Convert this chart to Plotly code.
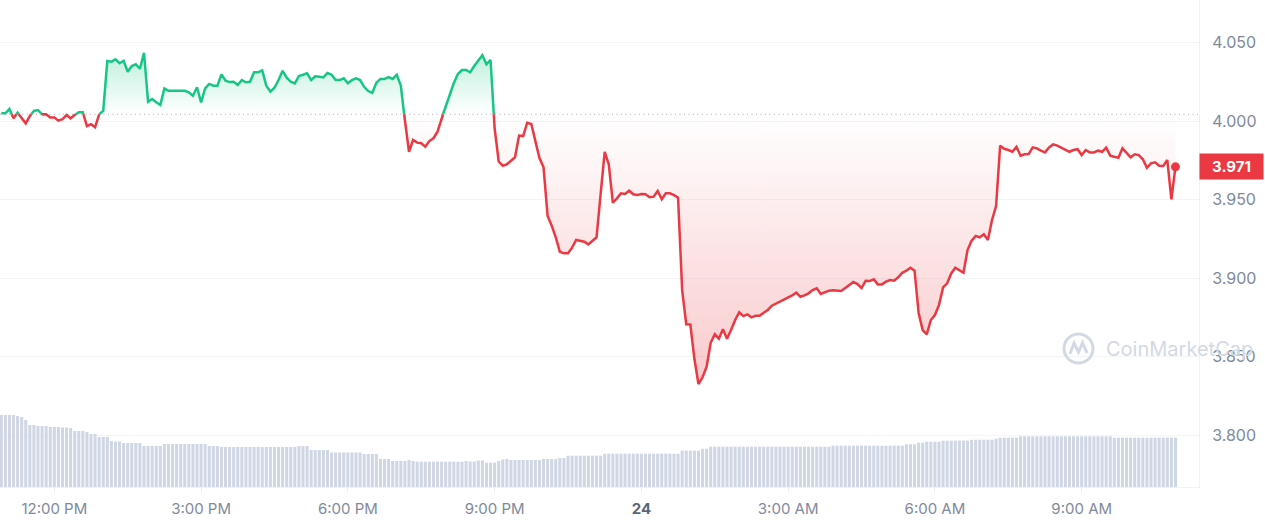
import plotly.graph_objects as go
import pandas as pd

# ---------------- data ----------------
START = "2024-06-23 10:55"          # first 5-minute sample
price = [
    4.0051, 4.0051, 4.0078, 4.0019, 4.0055, 4.0019, 3.9987, 4.0034, 4.0066, 4.0072,
    4.0045, 4.0045, 4.0025, 4.0025, 4.0004, 4.0013, 4.0040, 4.0019, 4.0040, 4.0057,
    4.0057, 3.9970, 3.9981, 3.9962, 4.0045, 4.0066, 4.0384, 4.0380, 4.0395, 4.0370,
    4.0386, 4.0316, 4.0352, 4.0363, 4.0335, 4.0437, 4.0125, 4.0142, 4.0121, 4.0104,
    4.0210, 4.0194, 4.0194, 4.0195, 4.0195, 4.0195, 4.0185, 4.0163, 4.0217, 4.0121,
    4.0210, 4.0238, 4.0227, 4.0227, 4.0299, 4.0259, 4.0250, 4.0252, 4.0231, 4.0263,
    4.0249, 4.0252, 4.0312, 4.0312, 4.0325, 4.0227, 4.0189, 4.0214, 4.0263, 4.0322,
    4.0278, 4.0252, 4.0242, 4.0289, 4.0297, 4.0306, 4.0263, 4.0287, 4.0284, 4.0280,
    4.0308, 4.0297, 4.0263, 4.0263, 4.0274, 4.0242, 4.0263, 4.0274, 4.0263, 4.0220,
    4.0193, 4.0182, 4.0246, 4.0270, 4.0270, 4.0282, 4.0270, 4.0297, 4.0227, 4.0002,
    3.9806, 3.9881, 3.9864, 3.9860, 3.9838, 3.9874, 3.9892, 3.9934, 4.0019, 4.0094,
    4.0168, 4.0244, 4.0301, 4.0327, 4.0327, 4.0312, 4.0352, 4.0384, 4.0421, 4.0363,
    4.0391, 3.9957, 3.9744, 3.9717, 3.9726, 3.9747, 3.9771, 3.9909, 3.9906, 3.9991,
    3.9983, 3.9874, 3.9766, 3.9707, 3.9397, 3.9335, 3.9260, 3.9169, 3.9159, 3.9159,
    3.9195, 3.9244, 3.9239, 3.9233, 3.9216, 3.9239, 3.9261, 3.9535, 3.9806, 3.9726,
    3.9481, 3.9509, 3.9541, 3.9537, 3.9558, 3.9535, 3.9530, 3.9537, 3.9535, 3.9516,
    3.9520, 3.9556, 3.9503, 3.9541, 3.9541, 3.9530, 3.9513, 3.8925, 3.8707, 3.8706,
    3.8487, 3.8326, 3.8369, 3.8436, 3.8589, 3.8643, 3.8615, 3.8675, 3.8615, 3.8670,
    3.8734, 3.8783, 3.8759, 3.8770, 3.8751, 3.8761, 3.8761, 3.8780, 3.8798, 3.8825,
    3.8838, 3.8851, 3.8861, 3.8879, 3.8891, 3.8908, 3.8882, 3.8891, 3.8904, 3.8925,
    3.8936, 3.8900, 3.8910, 3.8921, 3.8923, 3.8919, 3.8919, 3.8938, 3.8957, 3.8976,
    3.8963, 3.8938, 3.8984, 3.8982, 3.8993, 3.8961, 3.8961, 3.8978, 3.8989, 3.8984,
    3.9006, 3.9035, 3.9048, 3.9067, 3.9048, 3.8779, 3.8670, 3.8643, 3.8734, 3.8766,
    3.8829, 3.8942, 3.8968, 3.9031, 3.9067, 3.9052, 3.9035, 3.9180, 3.9239, 3.9269,
    3.9261, 3.9280, 3.9244, 3.9371, 3.9460, 3.9845, 3.9825, 3.9817, 3.9806, 3.9838,
    3.9781, 3.9790, 3.9792, 3.9834, 3.9828, 3.9813, 3.9802, 3.9834, 3.9853, 3.9845,
    3.9832, 3.9823, 3.9806, 3.9817, 3.9822, 3.9785, 3.9817, 3.9802, 3.9802, 3.9813,
    3.9806, 3.9832, 3.9781, 3.9774, 3.9768, 3.9828, 3.9800, 3.9771, 3.9790, 3.9785,
    3.9758, 3.9704, 3.9732, 3.9739, 3.9717, 3.9715, 3.9753, 3.9503, 3.9710,
]

volume = [
    7.2, 7.2, 7.2, 7.2, 7.1, 7.0, 6.7, 6.2, 6.2, 6.1,
    6.1, 6.1, 6.0, 6.0, 6.0, 5.95, 5.95, 5.9, 5.6, 5.6,
    5.6, 5.5, 5.3, 5.3, 5.0, 5.0, 5.0, 4.6, 4.55, 4.55,
    4.4, 4.4, 4.4, 4.4, 4.4, 4.1, 4.1, 4.1, 4.1, 4.1,
    4.3, 4.3, 4.3, 4.3, 4.3, 4.3, 4.3, 4.3, 4.3, 4.3,
    4.3, 4.1, 4.1, 4.1, 4.0, 4.0, 4.0, 4.0, 4.0, 4.0,
    4.0, 4.0, 4.0, 4.0, 4.0, 4.0, 4.0, 4.0, 4.0, 4.0,
    4.0, 4.0, 4.0, 4.1, 4.1, 4.1, 3.7, 3.7, 3.7, 3.7,
    3.7, 3.45, 3.45, 3.45, 3.45, 3.45, 3.45, 3.45, 3.45, 3.3,
    3.3, 3.3, 3.3, 2.8, 2.8, 2.8, 2.6, 2.6, 2.6, 2.6,
    2.7, 2.6, 2.53, 2.53, 2.53, 2.53, 2.53, 2.53, 2.53, 2.53,
    2.53, 2.53, 2.53, 2.53, 2.6, 2.55, 2.55, 2.65, 2.65, 2.43,
    2.43, 2.43, 2.6, 2.75, 2.8, 2.7, 2.7, 2.7, 2.7, 2.7,
    2.7, 2.7, 2.7, 2.8, 2.8, 2.8, 2.8, 2.9, 2.9, 3.13,
    3.13, 3.13, 3.13, 3.13, 3.13, 3.13, 3.13, 3.13, 3.33, 3.33,
    3.33, 3.33, 3.33, 3.33, 3.33, 3.33, 3.33, 3.33, 3.33, 3.33,
    3.33, 3.33, 3.33, 3.33, 3.33, 3.33, 3.33, 3.63, 3.63, 3.63,
    3.63, 3.63, 3.83, 3.83, 4.03, 4.03, 4.03, 4.03, 4.03, 4.03,
    4.03, 4.03, 4.03, 4.03, 4.03, 4.03, 4.03, 4.03, 4.03, 4.03,
    4.03, 4.03, 4.03, 4.03, 4.03, 4.03, 4.03, 4.03, 4.03, 4.03,
    4.03, 4.03, 4.03, 4.03, 4.13, 4.13, 4.13, 4.13, 4.13, 4.13,
    4.13, 4.13, 4.13, 4.13, 4.13, 4.13, 4.13, 4.13, 4.13, 4.13,
    4.13, 4.13, 4.27, 4.27, 4.27, 4.43, 4.43, 4.53, 4.53, 4.53,
    4.53, 4.63, 4.63, 4.63, 4.63, 4.63, 4.63, 4.63, 4.73, 4.73,
    4.73, 4.73, 4.73, 4.73, 4.83, 4.93, 4.93, 4.93, 4.93, 4.93,
    5.07, 5.07, 5.07, 5.07, 5.07, 5.07, 5.07, 5.07, 5.07, 5.07,
    5.07, 5.07, 5.07, 5.07, 5.07, 5.07, 5.07, 5.07, 5.07, 5.07,
    5.07, 5.07, 5.07, 4.93, 4.93, 4.93, 4.93, 4.93, 4.93, 4.93,
    4.93, 4.93, 4.93, 4.93, 4.93, 4.93, 4.93, 4.93, 4.93,
]

baseline = 4.0045                    # opening-price reference (dotted line)
tick_times = ["2024-06-23 12:00", "2024-06-23 15:00", "2024-06-23 18:00",
              "2024-06-23 21:00", "2024-06-24 00:00", "2024-06-24 03:00",
              "2024-06-24 06:00", "2024-06-24 09:00"]
tick_labels = ["12:00 PM", "3:00 PM", "6:00 PM", "9:00 PM",
               "<span style='color:#58667e'><b>24</b></span>",
               "3:00 AM", "6:00 AM", "9:00 AM"]
price_ticks = [3.80, 3.85, 3.90, 3.95, 4.00, 4.05]

# ---------------- layout constants ----------------
W, H = 1265, 522
ML, MR, MT, MB = 0, 66, 0, 35
PW, PH = W - ML - MR, H - MT - MB
x_range = ["2024-06-23 10:53:24", "2024-06-24 11:23:52"]
y_range = [3.7670, 4.0773]
vol_range = [0, 48.7]

GREEN = "#16c784"
RED = "#ea3943"
GREY = "#808a9d"
FONT = "Inter"

times = pd.date_range(START, periods=len(price), freq="5min")

# insert baseline crossings so colours switch exactly on the dotted line
ax, ay = [], []
for i in range(len(price)):
    ax.append(times[i])
    ay.append(price[i])
    if i + 1 < len(price):
        p0, p1 = price[i], price[i + 1]
        if (p0 - baseline) * (p1 - baseline) < 0:
            f = (baseline - p0) / (p1 - p0)
            ax.append(times[i] + (times[i + 1] - times[i]) * f)
            ay.append(baseline)

upper = [max(v, baseline) for v in ay]
lower = [min(v, baseline) for v in ay]
green_y = [v if v >= baseline else None for v in ay]
red_y = [v if v <= baseline else None for v in ay]
base_y = [baseline] * len(ax)

fig = go.Figure()

fig.add_trace(go.Scatter(x=ax, y=base_y, mode="lines", line=dict(width=0),
                         hoverinfo="skip", showlegend=False))
fig.add_trace(go.Scatter(
    x=ax, y=upper, mode="lines", line=dict(width=0), fill="tonexty",
    fillgradient=dict(type="vertical", start=baseline, stop=max(price),
                      colorscale=[[0, "rgba(22,199,132,0)"], [1, "rgba(22,199,132,0.28)"]]),
    hoverinfo="skip", showlegend=False))
fig.add_trace(go.Scatter(x=ax, y=base_y, mode="lines", line=dict(width=0),
                         hoverinfo="skip", showlegend=False))
fig.add_trace(go.Scatter(
    x=ax, y=lower, mode="lines", line=dict(width=0), fill="tonexty",
    fillgradient=dict(type="vertical", start=min(price), stop=baseline,
                      colorscale=[[0, "rgba(234,57,67,0.27)"], [1, "rgba(234,57,67,0)"]]),
    hoverinfo="skip", showlegend=False))
fig.add_trace(go.Scatter(x=ax, y=green_y, mode="lines", connectgaps=False,
                         line=dict(color=GREEN, width=2.5), showlegend=False))
fig.add_trace(go.Scatter(x=ax, y=red_y, mode="lines", connectgaps=False,
                         line=dict(color=RED, width=2.5), showlegend=False))
fig.add_trace(go.Scatter(x=[times[-1]], y=[price[-1]], mode="markers",
                         marker=dict(color=RED, size=9), showlegend=False))
fig.add_trace(go.Bar(x=times, y=volume, yaxis="y2", marker=dict(color="#cfd6e4", line=dict(width=0)),
                     showlegend=False))

# dotted reference line
fig.add_shape(type="line", xref="paper", yref="y", x0=0, x1=1, y0=baseline, y1=baseline,
              line=dict(color="#a6acb6", width=1, dash="1px,3.5px"), layer="below")

# last price label
fig.add_annotation(x=1, xref="paper", xanchor="left", y=price[-1], yref="y", yanchor="middle",
                   text=f"<b>{price[-1]:.3f}</b>", showarrow=False,
                   font=dict(family=FONT, size=15, color="white"),
                   bgcolor=RED, width=61, height=23, borderpad=1)

# watermark
def px(xp):
    return (xp - ML) / PW

def py(yp):
    return (MT + PH - yp) / PH

WM = "#d3d9e4"
fig.add_annotation(x=px(1104), xref="paper", xanchor="left", y=py(349), yref="paper",
                   yanchor="middle", text="CoinMarketCap", showarrow=False,
                   font=dict(family=FONT, size=20, color=WM))
fig.add_shape(type="circle", xref="paper", yref="paper",
              x0=px(1064), x1=px(1093), y0=py(363), y1=py(334),
              line=dict(color=WM, width=3), layer="above")
wave = [(1070, 354), (1074, 343), (1078.5, 352), (1082.5, 343), (1087, 353)]
path = "M " + " L ".join(f"{px(a):.5f},{py(b):.5f}" for a, b in wave)
fig.add_shape(type="path", xref="paper", yref="paper", path=path,
              line=dict(color=WM, width=3), layer="above")

fig.update_layout(
    width=W, height=H,
    margin=dict(l=ML, r=MR, t=MT, b=MB),
    paper_bgcolor="white", plot_bgcolor="white",
    showlegend=False, bargap=0.25,
    font=dict(family=FONT, size=14, color=GREY),
    xaxis=dict(type="date", range=x_range, tickvals=tick_times, ticktext=tick_labels,
               showgrid=False, zeroline=False, ticks="outside", ticklen=5,
               tickcolor="#eceef1", showline=True, linecolor="#eff2f5",
               tickfont=dict(family=FONT, size=15, color=GREY), ticklabelstandoff=3),
    yaxis=dict(side="right", range=y_range, tickvals=price_ticks,
               ticktext=[f"{v:.3f}" for v in price_ticks],
               showgrid=True, gridcolor="#f3f4f6", zeroline=False,
               showline=True, linecolor="#eff2f5", ticks="",
               tickfont=dict(family=FONT, size=16, color=GREY), ticklabelstandoff=9),
    yaxis2=dict(overlaying="y", range=vol_range, visible=False),
)

fig.write_html("out.html", config={"displayModeBar": False},
               post_script="document.body.style.margin='0';document.body.style.overflow='hidden';")
